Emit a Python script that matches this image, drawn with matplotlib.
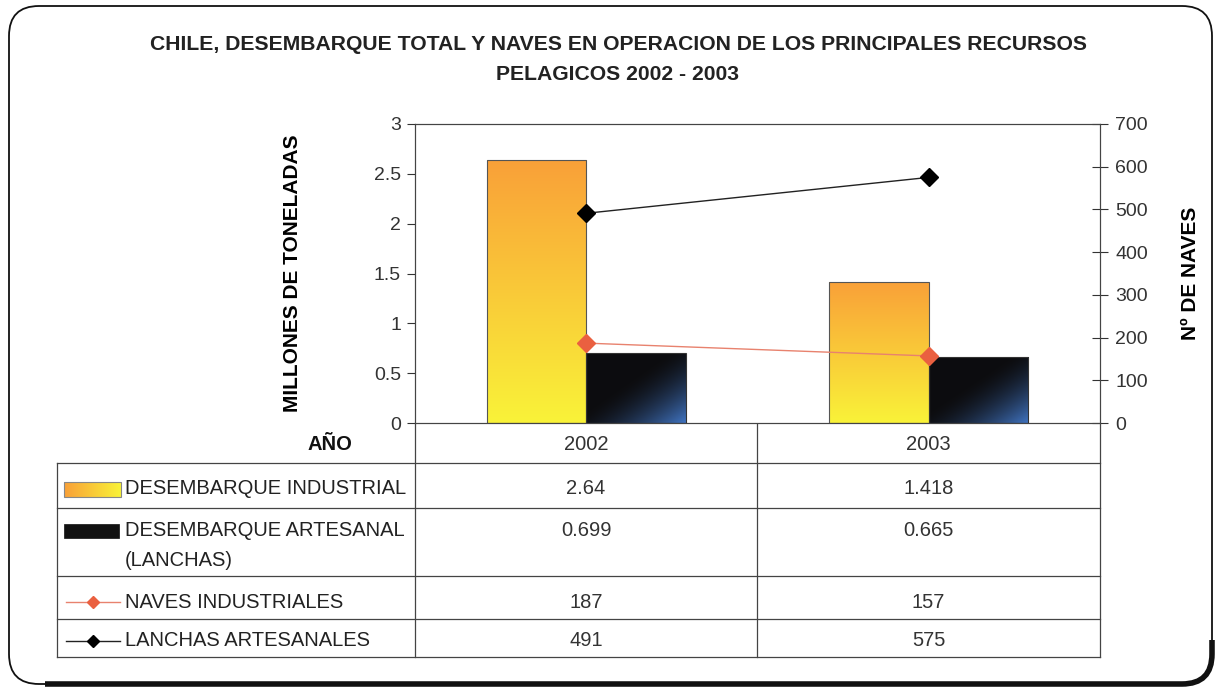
import numpy as np
import matplotlib
matplotlib.use('Agg')
import matplotlib.pyplot as plt
from matplotlib.patches import FancyBboxPatch, Rectangle
from matplotlib.lines import Line2D

plt.rcParams['font.family'] = ['Liberation Sans', 'DejaVu Sans']

# --- datos ---
years = ['2002', '2003']
desemb_industrial = [2.64, 1.418]      # millones de toneladas
desemb_artesanal = [0.699, 0.665]      # millones de toneladas
naves_industriales = [187, 157]        # Nº de naves
lanchas_artesanales = [491, 575]       # Nº de naves

W, H = 1216, 690
fig = plt.figure(figsize=(W / 100, H / 100), dpi=100)

# area del grafico (en pixeles -> fraccion)
px_l, px_r, px_t, px_b = 415, 1100, 124, 423
ax = fig.add_axes([px_l / W, 1 - px_b / H, (px_r - px_l) / W, (px_b - px_t) / H])
ax2 = ax.twinx()

x = np.arange(len(years))
w = 0.29

bars_ind = ax.bar(x - w / 2, desemb_industrial, w, color='none', edgecolor='#555555', linewidth=0.8, zorder=3)
bars_art = ax.bar(x + w / 2, desemb_artesanal, w, color='none', edgecolor='#333333', linewidth=0.8, zorder=3)

# degradados (amarillo/naranja y negro/azul)
g = np.linspace(0, 1, 64)
top = np.array([0.98, 0.63, 0.22])
bot = np.array([0.98, 0.95, 0.22])
img_ind = (top[None, None, :] * (1 - g[:, None, None]) + bot[None, None, :] * g[:, None, None]) * np.ones((64, 8, 1))
gx, gy = np.meshgrid(np.linspace(0, 1, 64), np.linspace(0, 1, 64))
t = np.clip((gx * 0.6 + gy * 0.6 - 0.5) / 0.7, 0, 1) ** 1.6
blk = np.array([0.05, 0.05, 0.06])
blu = np.array([0.25, 0.45, 0.75])
img_art = blk[None, None, :] * (1 - t[..., None]) + blu[None, None, :] * t[..., None]

for bars, img in [(bars_ind, img_ind), (bars_art, img_art)]:
    for p in bars:
        x0, y0 = p.get_x(), p.get_y()
        im = ax.imshow(img, extent=[x0, x0 + p.get_width(), y0, y0 + p.get_height()],
                       aspect='auto', origin='upper', zorder=2, interpolation='bilinear')
        im.set_clip_path(p)

ax.set_xlim(-0.5, len(years) - 0.5)
ax.set_ylim(0, 3)
ax.set_yticks([0, 0.5, 1, 1.5, 2, 2.5, 3])
ax.set_yticklabels(['0', '0.5', '1', '1.5', '2', '2.5', '3'])
ax.set_xticks([])
ax.tick_params(axis='y', labelsize=14, colors='#333333', length=6, width=0.8, pad=4)
ax.set_ylabel('MILLONES DE TONELADAS', fontsize=15, fontweight='bold', labelpad=52)

ax2.plot(x, naves_industriales, color='#E8826E', linewidth=1.0, marker='D', markersize=9,
         markerfacecolor='#EA6040', markeredgecolor='#EA6040', zorder=5)
ax2.plot(x, lanchas_artesanales, color='#222222', linewidth=1.0, marker='D', markersize=9,
         markerfacecolor='black', markeredgecolor='black', zorder=5)
ax2.set_ylim(0, 700)
ax2.set_yticks(range(0, 701, 100))
ax2.tick_params(axis='y', labelsize=14, colors='#333333', direction='inout', length=12, width=0.8, pad=5)
ax2.set_ylabel('Nº DE NAVES', fontsize=15, fontweight='bold', labelpad=24)

for a in (ax, ax2):
    for s in a.spines.values():
        s.set_color('#444444')
        s.set_linewidth(0.8)

# --- titulo ---
fig.text(618 / W, 1 - 45 / H, 'CHILE, DESEMBARQUE TOTAL Y NAVES EN OPERACION DE LOS PRINCIPALES RECURSOS',
         ha='center', va='center', fontsize=15.2, fontweight='bold', color='#222222')
fig.text(618 / W, 1 - 74 / H, 'PELAGICOS 2002 - 2003',
         ha='center', va='center', fontsize=15.2, fontweight='bold', color='#222222')

# --- tabla de datos (capa en pixeles) ---
ov = fig.add_axes([0, 0, 1, 1], zorder=-1)
ov.set_xlim(0, W)
ov.set_ylim(H, 0)
ov.axis('off')

tl, c1, c2, tr = 57, px_l, 757, px_r
rows = [463, 508, 576, 619, 657]
lc = '#444444'
for yy in rows:
    ov.add_line(Line2D([tl, tr], [yy, yy], color=lc, lw=0.9))
ov.add_line(Line2D([tl, tl], [rows[0], rows[-1]], color=lc, lw=0.9))
for xx in (c1, c2, tr):
    ov.add_line(Line2D([xx, xx], [px_b, rows[-1]], color=lc, lw=0.9))

ov.text(352, 445, 'AÑO', ha='right', va='center', fontsize=14.5, fontweight='bold', color='#111111')
cols_c = [(c1 + c2) / 2, (c2 + tr) / 2]
for i, yr in enumerate(years):
    ov.text(cols_c[i], 444, yr, ha='center', va='center', fontsize=14.5, color='#333333')

series_rows = [
    (desemb_industrial, ['DESEMBARQUE INDUSTRIAL'], 489),
    (desemb_artesanal, ['DESEMBARQUE ARTESANAL', '(LANCHAS)'], 530),
    (naves_industriales, ['NAVES INDUSTRIALES'], 602),
    (lanchas_artesanales, ['LANCHAS ARTESANALES'], 641),
]
for vals, labs, yy in series_rows:
    for j, lab in enumerate(labs):
        ov.text(125, yy + j * 30, lab, ha='left', va='center', fontsize=14.5, color='#222222')
    for i, v in enumerate(vals):
        ov.text(cols_c[i], yy, str(v), ha='center', va='center', fontsize=14.5, color='#333333')

# claves de la leyenda
ov.imshow(img_ind.transpose(1, 0, 2), extent=[64, 121, 497, 482], aspect='auto', zorder=2)
ov.add_patch(Rectangle((64, 482), 57, 15, fill=False, edgecolor='#888888', lw=0.8, zorder=3))
ov.add_patch(Rectangle((64, 524), 55, 14, facecolor='#111111', edgecolor='#111111', lw=0.5))
ov.add_line(Line2D([66, 120], [602, 602], color='#E8826E', lw=1.0))
ov.plot([93], [602], marker='D', markersize=6, color='#EA6040')
ov.add_line(Line2D([66, 120], [641, 641], color='#222222', lw=1.0))
ov.plot([93], [641], marker='D', markersize=6, color='black')
ov.set_xlim(0, W)
ov.set_ylim(H, 0)

# marco redondeado
fbox = (9, 6, 1203, 678)
frame = FancyBboxPatch(fbox[:2], fbox[2], fbox[3], boxstyle='round,pad=0,rounding_size=30',
                       facecolor='none', edgecolor='#111111', lw=1.3)
ov.add_patch(frame)
thick = FancyBboxPatch(fbox[:2], fbox[2], fbox[3], boxstyle='round,pad=0,rounding_size=30',
                       facecolor='none', edgecolor='#111111', lw=4)
ov.add_patch(thick)
clip = Rectangle((45, 640), 1200, 60, transform=ov.transData)
thick.set_clip_path(clip)

fig.savefig('out.png', dpi=100)
